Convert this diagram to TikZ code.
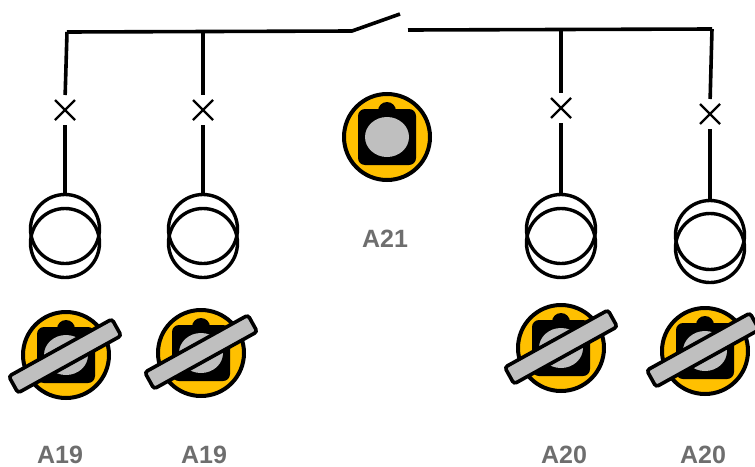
\documentclass[tikz,border=0pt]{standalone}
\usepackage{fontspec}
\setmainfont{Liberation Sans}
\usepackage{tikz}
\usetikzlibrary{shapes.misc}
\definecolor{lampyellow}{HTML}{FFC000}
\definecolor{lampgray}{HTML}{BFBFBF}
\definecolor{labelgray}{HTML}{6E6E6E}
\tikzset{
  wire/.style={line width=3.6pt},
  feed/.style={wire, shorten >=5pt},
  drop/.style={wire, shorten <=5pt},
  brk/.style={draw, cross out, line width=2.2pt, inner sep=0pt, minimum size=20pt, outer sep=0pt},
  ct/.style={draw, circle, line width=3.4pt, inner sep=0pt, minimum size=69pt},
  bar/.style={draw, fill=lampgray, line width=3.6pt, rounded corners=3pt, inner sep=0pt,
    minimum width=118pt, minimum height=19pt, rotate=29},
  tag/.style={text=labelgray, font=\fontsize{25}{25}\selectfont\bfseries, inner sep=0pt},
  pics/lamp/.style={code={
    \fill[lampyellow, draw=black, line width=4pt] (0,0) circle (43);
    \fill[rounded corners=7pt] (-29,-28) rectangle (29,28);
    \fill (0,-26) circle (9);
    \fill[lampgray] (0,0) ellipse (22 and 20);
  }},
}

\begin{document}
\begin{tikzpicture}[x=1pt, y=-1pt]
  \clip (0,0) rectangle (755,466);
  \useasboundingbox (0,0) rectangle (755,466);
  % busbar and open switch
  \coordinate (busl) at (67,32);
  \coordinate (swa) at (352,31);
  \coordinate (swb) at (400,14);
  \coordinate (busr) at (408,30);
  \coordinate (busend) at (712,29);
  \coordinate (tapb) at (203,32);
  \coordinate (tapc) at (561,30);
  \draw[wire] (busl) -- (swa) -- (swb);
  \draw[wire] (busr) -- (busend);
  % breakers
  \node[brk] (brka) at (65,110) {};
  \node[brk] (brkb) at (203,110) {};
  \node[brk] (brkc) at (561,108) {};
  \node[brk] (brkd) at (710,114) {};
  % transformers
  \node[ct] (cta) at (65,229) {};
  \node[ct] (ctalow) at (65,243) {};
  \node[ct] (ctb) at (203,229) {};
  \node[ct] (ctblow) at (203,243) {};
  \node[ct] (ctc) at (561,229) {};
  \node[ct] (ctclow) at (561,243) {};
  \node[ct] (ctd) at (710,235) {};
  \node[ct] (ctdlow) at (710,248) {};
  \draw[feed] (busl) -- (brka.north);
  \draw[drop] (brka.south) -- (cta.north);
  \draw[feed] (tapb) -- (brkb.north);
  \draw[drop] (brkb.south) -- (ctb.north);
  \draw[feed] (tapc) -- (brkc.north);
  \draw[drop] (brkc.south) -- (ctc.north);
  \draw[feed] (busend) -- (brkd.north);
  \draw[drop] (brkd.south) -- (ctd.north);
  % lamps
  \pic at (387,137) {lamp};
  \pic at (66,355) {lamp};
  \pic at (201,353) {lamp};
  \pic at (561,348) {lamp};
  \pic at (705,351) {lamp};
  \node[bar] (bara) at (65,356) {};
  \node[bar] (barb) at (201,352) {};
  \node[bar] (barc) at (561,347) {};
  \node[bar] (bard) at (703,350) {};
  % labels
  \node[tag] (taga) at (60,455) {A19};
  \node[tag] (tagb) at (204,455) {A19};
  \node[tag] (tagc) at (385,239) {A21};
  \node[tag] (tagd) at (564,455) {A20};
  \node[tag] (tage) at (703,455) {A20};
\end{tikzpicture}
\end{document}
